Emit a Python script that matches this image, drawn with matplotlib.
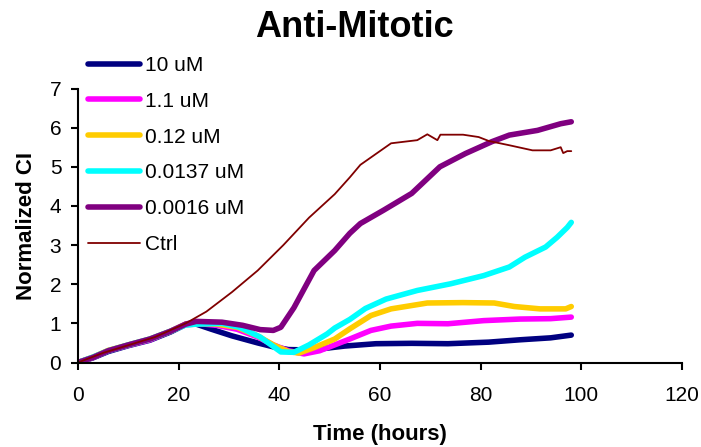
import numpy as np
import matplotlib
matplotlib.use("Agg")
import matplotlib.pyplot as plt

plt.rcParams['font.family'] = ['Liberation Sans', 'DejaVu Sans']

# series (hours, normalized CI)
h_10 = [0, 3, 6, 10, 14.3, 18.4, 21.4, 23.5, 26.5, 30.6, 35.7, 38.8, 41.8, 45.9, 49, 53, 59.2,
        66.3, 73.5, 81.6, 87.8, 93.9, 98]
ci_10 = [0, 0.12, 0.28, 0.43, 0.57, 0.78, 0.97, 0.98, 0.85, 0.68, 0.5, 0.4, 0.33, 0.32, 0.36,
         0.42, 0.48, 0.49, 0.48, 0.52, 0.58, 0.63, 0.7]

h_1_1 = [0, 3, 6, 10, 14.3, 18.4, 21.4, 23.5, 27.5, 31.6, 35.7, 38.8, 41.8, 44.9, 48, 51, 54,
         58.2, 62.2, 67.4, 73.5, 80.6, 87.8, 93.9, 98]
ci_1_1 = [0, 0.13, 0.3, 0.44, 0.58, 0.8, 0.98, 1.0, 0.95, 0.85, 0.65, 0.45, 0.3, 0.22, 0.3,
          0.45, 0.6, 0.82, 0.93, 1.0, 0.99, 1.07, 1.11, 1.12, 1.16]

h_0_12 = [0, 3, 6, 10, 14.3, 18.4, 21.4, 23.5, 27.5, 31.6, 35.7, 38.8, 41.8, 43.9, 46.9, 51, 54,
          58.2, 62.2, 69.4, 76.5, 82.7, 86.7, 91.8, 96.9, 98]
ci_0_12 = [0, 0.14, 0.31, 0.45, 0.6, 0.8, 0.98, 1.0, 0.98, 0.9, 0.68, 0.45, 0.28, 0.24, 0.38,
           0.6, 0.86, 1.2, 1.37, 1.52, 1.53, 1.52, 1.43, 1.37, 1.37, 1.43]

h_0_0137 = [0, 3, 6, 10, 14.3, 18.4, 21.4, 23.5, 28.6, 32.1, 36.2, 40.3, 42.9, 45.9, 49.5, 51,
            54, 57.1, 61.2, 67.4, 74, 80.6, 85.7, 88.8, 92.9, 95.2, 97.2, 98]
ci_0_0137 = [0, 0.14, 0.3, 0.45, 0.6, 0.8, 0.96, 0.98, 1.0, 0.9, 0.65, 0.27, 0.26, 0.45, 0.73,
             0.88, 1.1, 1.38, 1.62, 1.84, 2.01, 2.22, 2.44, 2.69, 2.95, 3.2, 3.45, 3.58]

h_0_0016 = [0, 3, 6, 10, 14.3, 18.4, 21.4, 23.5, 28.6, 32.7, 36.2, 38.8, 40.3, 42.9, 46.9, 51,
            54, 56.1, 60.7, 66.3, 71.9, 77, 82.2, 85.7, 91.3, 95.9, 98]
ci_0_0016 = [0, 0.13, 0.3, 0.45, 0.6, 0.8, 0.98, 1.05, 1.03, 0.95, 0.84, 0.82, 0.9, 1.4, 2.35,
             2.86, 3.3, 3.55, 3.89, 4.32, 5.0, 5.34, 5.64, 5.81, 5.93, 6.1, 6.15]

h_ctrl = [0, 5.1, 10.2, 15.3, 21.4, 25.5, 30.6, 35.7, 40.8, 45.9, 51, 54, 56.1, 60.2, 62.2, 67.4,
          69.4, 71.4, 72, 76.5, 79.6, 81.6, 85.7, 90.3, 93.9, 95.9, 96.4, 97.2, 98]
ci_ctrl = [0, 0.25, 0.45, 0.65, 1.0, 1.3, 1.8, 2.35, 3.0, 3.7, 4.3, 4.73, 5.05, 5.42, 5.6, 5.68,
           5.83, 5.68, 5.82, 5.82, 5.76, 5.66, 5.55, 5.42, 5.42, 5.5, 5.35, 5.4, 5.4]

series = [
    ("10 uM", h_10, ci_10, "#000080", 4.0),
    ("1.1 uM", h_1_1, ci_1_1, "#FF00FF", 4.0),
    ("0.12 uM", h_0_12, ci_0_12, "#FFCC00", 4.0),
    ("0.0137 uM", h_0_0137, ci_0_0137, "#00FFFF", 4.0),
    ("0.0016 uM", h_0_0016, ci_0_0016, "#800080", 4.0),
    ("Ctrl", h_ctrl, ci_ctrl, "#800000", 1.3),
]

W, H = 701, 447
fig = plt.figure(figsize=(W/100, H/100), dpi=100)
ax = fig.add_axes([78/W, 1-362.5/H, 604/W, 274/H])

for label, h, ci, color, lw in series:
    ax.plot(h, ci, color=color, linewidth=lw, label=label, solid_capstyle='round')

ax.set_xlim(0, 120)
ax.set_ylim(0, 7)
ax.set_xticks(np.arange(0, 121, 20))
ax.set_yticks(np.arange(0, 8, 1))
ax.spines['top'].set_visible(False)
ax.spines['right'].set_visible(False)
for s in ['left', 'bottom']:
    ax.spines[s].set_linewidth(1.5)
ax.tick_params(direction='out', length=5, width=1.5, labelsize=15)
ax.tick_params(axis='x', pad=12)
ax.tick_params(axis='y', pad=7)

fig.text(354/W, 1-37.3/H, 'Anti-Mitotic', ha='center', va='baseline',
         fontsize=26, fontweight='bold')
fig.text(380/W, 1-440/H, 'Time (hours)', ha='center', va='baseline',
         fontsize=16, fontweight='bold')
fig.text(26/W, 1-226.5/H, 'Normalized CI', ha='center', va='center', rotation=90,
         fontsize=16, fontweight='bold')

leg = ax.legend(loc='upper left', bbox_to_anchor=(88/W, 1-55.8/H),
                bbox_transform=fig.transFigure, frameon=False, fontsize=15,
                borderpad=0, borderaxespad=0, handlelength=2.5,
                handletextpad=0.25, labelspacing=0.81)

fig.savefig("out.png", dpi=100)
